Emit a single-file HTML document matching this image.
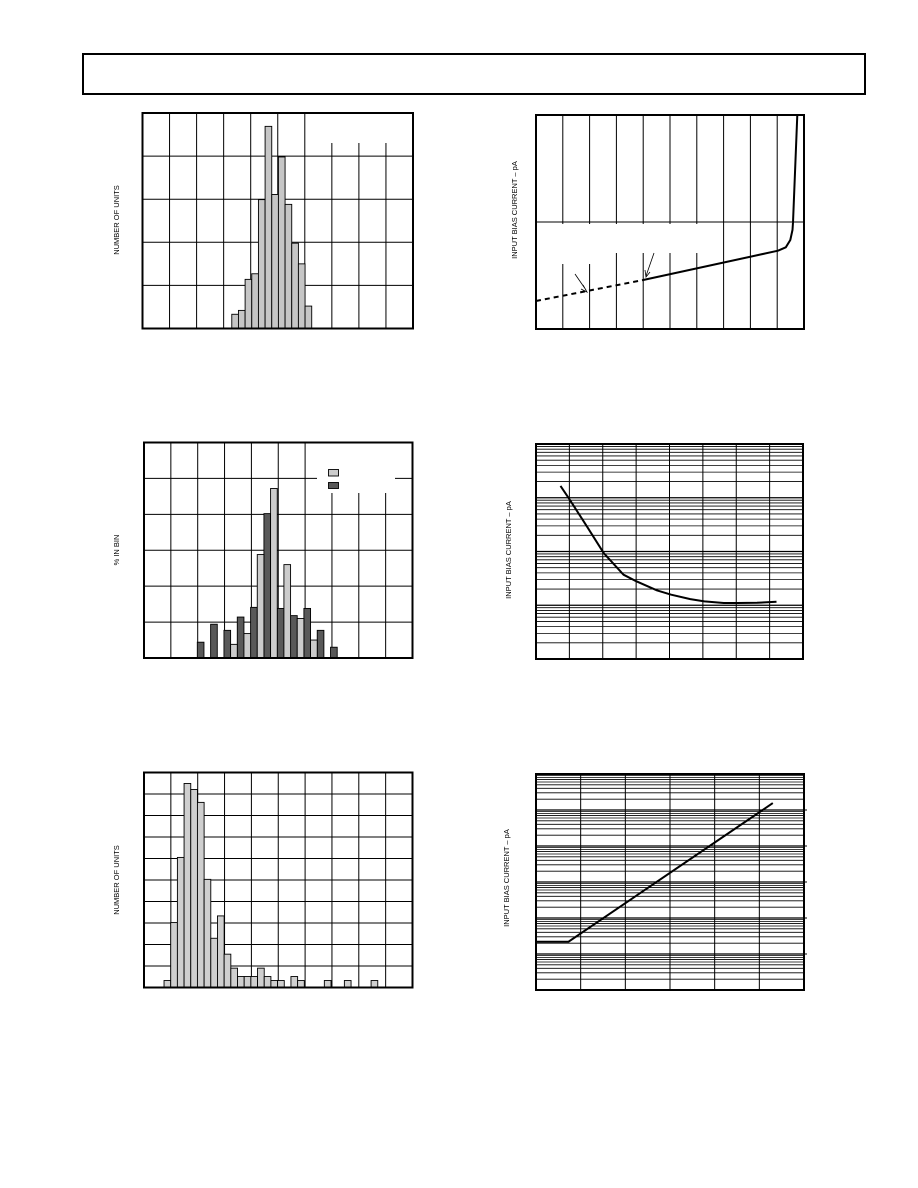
<!DOCTYPE html>
<html><head><meta charset="utf-8"><style>
html,body{margin:0;padding:0;background:#fff;}
svg{display:block;}
text{font-family:"Liberation Sans",sans-serif;font-size:7.5px;}
</style></head><body>
<svg id="s" width="918" height="1188" viewBox="0 0 918 1188">
<rect x="83" y="54" width="782" height="40" fill="none" stroke="#000" stroke-width="2"/>
<text transform="translate(119,220) rotate(-90)" text-anchor="middle">NUMBER OF UNITS</text>
<text transform="translate(119,550) rotate(-90)" text-anchor="middle">% IN BIN</text>
<text transform="translate(119,880) rotate(-90)" text-anchor="middle">NUMBER OF UNITS</text>
<text transform="translate(517,210) rotate(-90)" text-anchor="middle">INPUT BIAS CURRENT – pA</text>
<text transform="translate(511,550) rotate(-90)" text-anchor="middle">INPUT BIAS CURRENT – pA</text>
<text transform="translate(509,878) rotate(-90)" text-anchor="middle">INPUT BIAS CURRENT – pA</text>
</svg>
<script>
// Chart 1 histogram
const h1Values = [3.3,4.2,11.4,12.7,29.9,46.9,31.1,39.8,28.8,19.8,15,5.2];
const h1StartSlot = 13.4;
// Chart 2 histogram (two series, interleaved slots)
const h2Dark = [2.2,4.7,3.85,5.7,7.05,20.1,6.9,5.9,6.9,3.85,1.5];
const h2Light = [0,0,1.9,3.4,14.4,23.6,13.0,5.5,2.5,0];
const h2StartSlot = 8;
// Chart 3 histogram
const h3Values = [3.25,30.2,60.5,94.9,92.1,86.1,50.3,22.9,33.3,15.5,9,5.1,5.1,5.1,9,5.1,3.25,3.25,0,5.1,3.25,0,0,0,3.25,0,0,3.25,0,0,0,3.25];
const h3StartSlot = 3;
// Chart 4 curve (x in divisions, y in % of full scale)
const c4Dashed = [[0,13.1],[4.0,22.9]];
const c4Solid = [[4.0,22.9],[9.03,36.6],[9.32,38.2],[9.49,41.6],[9.57,46.3],[9.59,49.7],[9.75,100]];
// Chart 5 curve (log y)
const c5X = [0.73,1.0,1.52,2.02,2.61,3.01,3.61,4.03,4.6,5.02,5.6,6.01,6.59,7.17];
const c5Y = [1660,935,290,93,37,27.6,18.9,15.7,13.0,11.8,11.0,11.0,11.1,11.6];
// Chart 6 curve (log y)
const c6X = [0,0.73,5.32];
const c6Y = [22,22,155000];

const S = document.getElementById('s');
const NS = 'http://www.w3.org/2000/svg';
function mk(tag, at){const e=document.createElementNS(NS,tag);for(const k in at)e.setAttribute(k,at[k]);S.appendChild(e);return e;}
function line(x1,y1,x2,y2,w){return mk('line',{x1,y1,x2,y2,stroke:'#000','stroke-width':w||1});}

function linGrid(L,T,R,B,cols,rows,name){
  for(let i=1;i<cols;i++){const x=L+(R-L)*i/cols;const l=line(x,T,x,B);
    
    }
  for(let j=1;j<rows;j++){const y=T+(B-T)*j/rows;const l=line(L,y,R,y);
    
    }
}
function logGrid(L,T,R,B,cols,decs,name){
  for(let i=1;i<cols;i++){const x=L+(R-L)*i/cols;const l=line(x,T,x,B);
    
    }
  const dh=(B-T)/decs;
  for(let d=0;d<decs;d++){for(let m=1;m<=9;m++){if(d===0&&m===1)continue;
    const y=B-dh*(d+Math.log10(m));const l=line(L,y,R,y,m===1?1.3:0.8);
    
    }}
}
function frame(L,T,R,B,name){const r=mk('rect',{x:L,y:T,width:R-L,height:B-T,fill:'none',stroke:'#000','stroke-width':2});
  
  }
function whiteBox(x,y,w,h){const r=mk('rect',{x,y,width:w,height:h,fill:'#fff'});
  
  }
function bars(L,B,H,vmax,slotW,start,vals,fill,step,off,name){
  vals.forEach((v,i)=>{if(v<=0)return;const h=v/vmax*H;const x=L+(start+off+i*step)*slotW;
    const r=mk('rect',{x,y:B-h,width:slotW,height:h,fill,stroke:'#000','stroke-width':0.9});
    
    });
}

// Chart 1
(function(){const L=142.5,T=113,R=413,B=328.5;
  linGrid(L,T,R,B,10,5,'chart1');
  whiteBox(328,114,60,29);
  bars(L,B,B-T,50,(R-L)/40.6,h1StartSlot,h1Values,'#c6c6c6',1,0,'chart1-bar');
  frame(L,T,R,B,'chart1');})();

// Chart 2
(function(){const L=144,T=442.5,R=412.5,B=658;
  linGrid(L,T,R,B,10,6,'chart2');
  whiteBox(317,443,78,50);
  const sw=(R-L)/40.3;
  bars(L,B,B-T,30,sw,h2StartSlot,h2Dark,'#595959',2,0,'chart2-dark-bar');
  bars(L,B,B-T,30,sw,h2StartSlot,h2Light,'#cccccc',2,1,'chart2-light-bar');
  const a=mk('rect',{x:328.5,y:469.5,width:10,height:6.5,fill:'#cccccc',stroke:'#000','stroke-width':0.9});
  
  
  const b=mk('rect',{x:328.5,y:482.5,width:10,height:6,fill:'#595959',stroke:'#000','stroke-width':0.9});
  
  
  frame(L,T,R,B,'chart2');})();

// Chart 3
(function(){const L=144,T=772.5,R=412.5,B=987.5;
  linGrid(L,T,R,B,10,10,'chart3');
  bars(L,B,B-T,100,(R-L)/40.2,h3StartSlot,h3Values,'#cfcfcf',1,0,'chart3-bar');
  frame(L,T,R,B,'chart3');})();

function pathFrom(pts,fx,fy){return pts.map((p,i)=>(i?'L':'M')+fx(p[0]).toFixed(1)+','+fy(p[1]).toFixed(1)).join(' ');}

// Chart 4
(function(){const L=536,T=115,R=804,B=329;
  linGrid(L,T,R,B,10,2,'chart4');
  whiteBox(538,224,165,29);whiteBox(538,224,55,40);
  const fx=v=>L+v*(R-L)/10, fy=v=>B-v/100*(B-T);
  const d=mk('path',{d:pathFrom(c4Dashed,fx,fy),fill:'none',stroke:'#000','stroke-width':2,'stroke-dasharray':'5,4'});
  
  
  const s=mk('path',{d:pathFrom(c4Solid,fx,fy),fill:'none',stroke:'#000','stroke-width':2,'stroke-linejoin':'round'});
  
  
  const a1=mk('path',{d:'M575,274 L586,290 M583,285 L587,292 L581,289',fill:'none',stroke:'#000','stroke-width':0.8});
  
  
  const a2=mk('path',{d:'M654,253 L646,276 M645,270 L646,277 L650,272',fill:'none',stroke:'#000','stroke-width':0.8});
  
  
  frame(L,T,R,B,'chart4');})();

// Chart 5
(function(){const L=536,T=444,R=803,B=659;
  logGrid(L,T,R,B,8,4,'chart5');
  const fx=v=>L+v*(R-L)/7.96, fy=v=>B-Math.log10(v)/4*(B-T);
  const p=mk('path',{d:pathFrom(c5X.map((x,i)=>[x,c5Y[i]]),fx,fy),fill:'none',stroke:'#000','stroke-width':2,'stroke-linejoin':'round'});
  
  
  frame(L,T,R,B,'chart5');})();

// Chart 6
(function(){const L=536,T=774,R=804,B=990;
  logGrid(L,T,R,B,6,6,'chart6');
  for(let d=1;d<6;d++){const y=B-d*(B-T)/6;const t=line(R,y,R+3,y);
    
    }
  const fx=v=>L+v*(R-L)/6.02, fy=v=>B-Math.log10(v)/6*(B-T);
  const p=mk('path',{d:pathFrom(c6X.map((x,i)=>[x,c6Y[i]]),fx,fy),fill:'none',stroke:'#000','stroke-width':2});
  
  
  frame(L,T,R,B,'chart6');})();
</script>
</body></html>
